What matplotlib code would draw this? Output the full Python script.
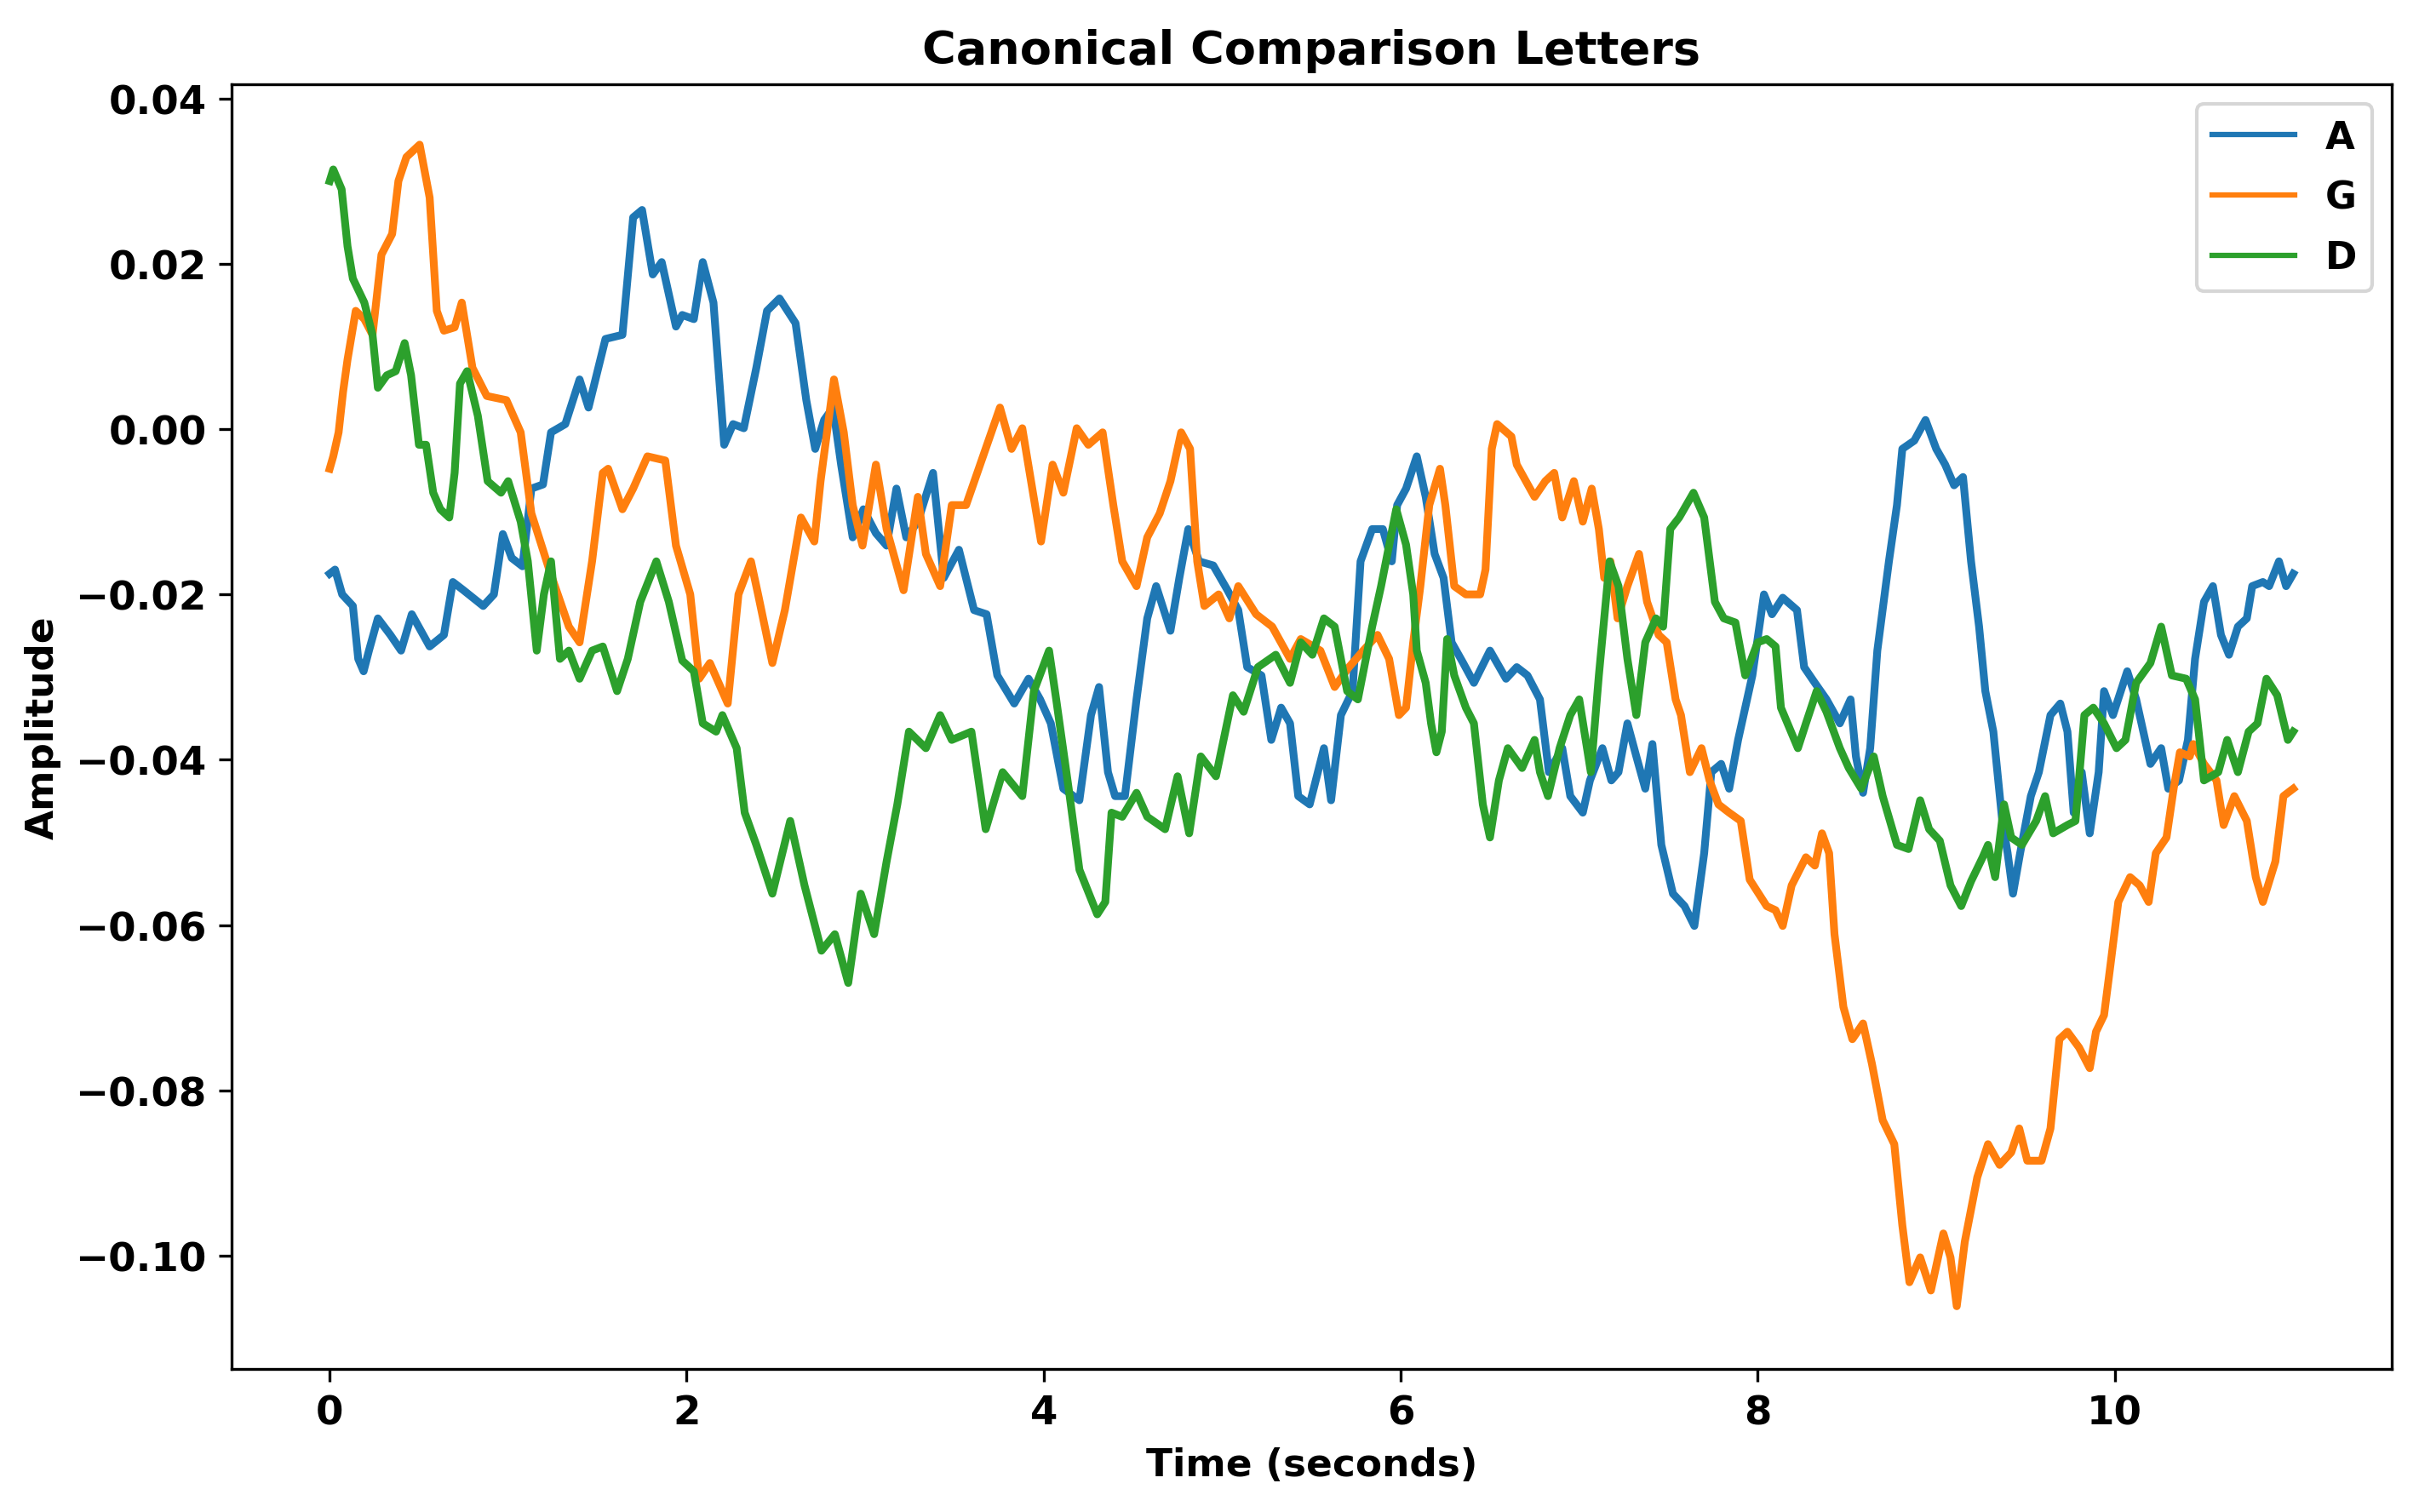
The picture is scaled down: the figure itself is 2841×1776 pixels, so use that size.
import numpy as np
import matplotlib
matplotlib.use("Agg")
import matplotlib.pyplot as plt

# values (time in s, amplitude)
t_a = [0.00, 0.03, 0.07, 0.13, 0.16, 0.19, 0.22, 0.27, 0.34, 0.40, 0.46, 0.56, 0.64, 0.69, 0.75, 0.86,
       0.92, 0.97, 1.02, 1.08, 1.13, 1.195, 1.24, 1.32, 1.40, 1.45, 1.545, 1.64, 1.70, 1.75, 1.81, 1.86,
       1.94, 1.975, 2.04, 2.09, 2.15, 2.21, 2.26, 2.32, 2.39, 2.45, 2.52, 2.61, 2.67, 2.72, 2.77, 2.82,
       2.865, 2.93, 2.99, 3.06, 3.12, 3.175, 3.23, 3.295, 3.38, 3.44, 3.525, 3.61, 3.68, 3.74, 3.835,
       3.915, 3.98, 4.04, 4.11, 4.20, 4.265, 4.31, 4.36, 4.40, 4.455, 4.52, 4.58, 4.63, 4.71, 4.76, 4.81,
       4.87, 4.95, 5.03, 5.09, 5.14, 5.22, 5.275, 5.33, 5.38, 5.426, 5.49, 5.57, 5.61, 5.665, 5.73, 5.775,
       5.84, 5.90, 5.95, 5.98, 6.03, 6.09, 6.14, 6.19, 6.24, 6.285, 6.35, 6.41, 6.50, 6.59, 6.65, 6.71,
       6.78, 6.83, 6.905, 6.95, 7.02, 7.06, 7.13, 7.18, 7.22, 7.27, 7.32, 7.37, 7.41, 7.46, 7.525, 7.59,
       7.645, 7.70, 7.74, 7.795, 7.84, 7.89, 7.97, 8.035, 8.08, 8.14, 8.22, 8.26, 8.32, 8.385, 8.46, 8.52,
       8.55, 8.59, 8.63, 8.67, 8.735, 8.78, 8.81, 8.877, 8.94, 9.00, 9.05, 9.10, 9.15, 9.195, 9.24, 9.275,
       9.32, 9.37, 9.40, 9.43, 9.47, 9.53, 9.575, 9.64, 9.695, 9.735, 9.77, 9.815, 9.86, 9.91, 9.94, 9.99,
       10.07, 10.12, 10.20, 10.26, 10.30, 10.36, 10.41, 10.45, 10.50, 10.55, 10.595, 10.64, 10.69, 10.74,
       10.77, 10.83, 10.865, 10.92, 10.96, 11.00]
amp_a = [-0.0175, -0.0170, -0.0200, -0.0214, -0.0278, -0.0293, -0.0268, -0.0229, -0.0249, -0.0268,
         -0.0224, -0.0263, -0.0249, -0.0185, -0.0195, -0.0214, -0.0200, -0.0127, -0.0156, -0.0166,
         -0.0072, -0.0067, -0.0004, 0.0006, 0.0060, 0.0026, 0.0109, 0.0114, 0.0256, 0.0265, 0.0187,
         0.0202, 0.0124, 0.0138, 0.0133, 0.0202, 0.0153, -0.0019, 0.0006, 0.0001, 0.0074, 0.0143, 0.0158,
         0.0128, 0.0035, -0.0024, 0.0011, 0.0026, -0.0043, -0.0131, -0.0097, -0.0126, -0.0141, -0.0072,
         -0.0131, -0.0112, -0.0053, -0.0180, -0.0146, -0.0219, -0.0224, -0.0298, -0.0332, -0.0302,
         -0.0327, -0.0356, -0.0435, -0.0449, -0.0346, -0.0312, -0.0415, -0.0444, -0.0444, -0.0327,
         -0.0229, -0.0190, -0.0244, -0.0180, -0.0121, -0.0160, -0.0165, -0.0195, -0.0219, -0.0288,
         -0.0298, -0.0376, -0.0337, -0.0356, -0.0444, -0.0454, -0.0386, -0.0449, -0.0346, -0.0317,
         -0.0160, -0.0121, -0.0121, -0.0160, -0.0092, -0.0072, -0.0033, -0.0082, -0.0151, -0.0180,
         -0.0258, -0.0283, -0.0307, -0.0268, -0.0302, -0.0288, -0.0298, -0.0327, -0.0415, -0.0386,
         -0.0444, -0.0464, -0.0425, -0.0386, -0.0425, -0.0415, -0.0356, -0.0396, -0.0435, -0.0381,
         -0.0503, -0.0562, -0.0577, -0.0601, -0.0513, -0.0415, -0.0405, -0.0435, -0.0376, -0.0298,
         -0.0200, -0.0224, -0.0204, -0.0219, -0.0288, -0.0307, -0.0327, -0.0356, -0.0327, -0.0396,
         -0.0440, -0.0386, -0.0268, -0.0160, -0.0092, -0.0024, -0.0014, 0.0011, -0.0024, -0.0043,
         -0.0068, -0.0058, -0.0160, -0.0239, -0.0317, -0.0366, -0.0474, -0.0513, -0.0562, -0.0513,
         -0.0444, -0.0415, -0.0346, -0.0332, -0.0366, -0.0464, -0.0415, -0.0489, -0.0415, -0.0317,
         -0.0346, -0.0293, -0.0327, -0.0405, -0.0386, -0.0435, -0.0425, -0.0376, -0.0278, -0.0209,
         -0.0190, -0.0249, -0.0273, -0.0239, -0.0229, -0.0190, -0.0185, -0.0190, -0.0160, -0.0190,
         -0.0175]

t_g = [0.00, 0.02, 0.05, 0.075, 0.10, 0.146, 0.194, 0.24, 0.29, 0.35, 0.385, 0.43, 0.504, 0.56, 0.60,
       0.64, 0.70, 0.74, 0.80, 0.88, 0.99, 1.07, 1.13, 1.23, 1.34, 1.40, 1.47, 1.53, 1.56, 1.64, 1.70,
       1.78, 1.88, 1.94, 2.02, 2.07, 2.13, 2.23, 2.29, 2.36, 2.40, 2.48, 2.55, 2.64, 2.715, 2.75, 2.825,
       2.88, 2.93, 2.985, 3.06, 3.12, 3.215, 3.295, 3.34, 3.42, 3.485, 3.565, 3.66, 3.755, 3.82, 3.88,
       3.985, 4.05, 4.11, 4.185, 4.25, 4.33, 4.39, 4.44, 4.52, 4.58, 4.65, 4.71, 4.77, 4.82, 4.86, 4.90,
       4.98, 5.04, 5.09, 5.19, 5.28, 5.38, 5.44, 5.55, 5.63, 5.71, 5.79, 5.87, 5.935, 5.99, 6.03, 6.07,
       6.11, 6.16, 6.22, 6.25, 6.30, 6.365, 6.445, 6.475, 6.51, 6.54, 6.62, 6.65, 6.75, 6.81, 6.86, 6.905,
       6.97, 7.02, 7.07, 7.11, 7.14, 7.175, 7.215, 7.27, 7.335, 7.38, 7.445, 7.49, 7.54, 7.57, 7.62,
       7.685, 7.73, 7.78, 7.84, 7.905, 7.955, 8.02, 8.05, 8.10, 8.14, 8.19, 8.27, 8.32, 8.36, 8.40, 8.43,
       8.48, 8.53, 8.59, 8.64, 8.70, 8.765, 8.81, 8.85, 8.91, 8.97, 9.04, 9.08, 9.115, 9.16, 9.23, 9.29,
       9.355, 9.42, 9.465, 9.51, 9.59, 9.64, 9.69, 9.735, 9.80, 9.86, 9.895, 9.94, 9.975, 10.02, 10.086,
       10.14, 10.19, 10.23, 10.29, 10.33, 10.365, 10.42, 10.44, 10.50, 10.57, 10.61, 10.67, 10.74, 10.79,
       10.83, 10.90, 10.945, 11.00]
amp_g = [-0.0048, -0.0033, -0.0004, 0.0045, 0.0084, 0.0143, 0.0133, 0.0114, 0.0211, 0.0236, 0.0300,
         0.0329, 0.0344, 0.0280, 0.0143, 0.0119, 0.0123, 0.0153, 0.0074, 0.0040, 0.0035, -0.0004,
         -0.0102, -0.0170, -0.0239, -0.0258, -0.0160, -0.0053, -0.0048, -0.0097, -0.0072, -0.0033,
         -0.0038, -0.0141, -0.0200, -0.0302, -0.0283, -0.0332, -0.0200, -0.0160, -0.0200, -0.0283,
         -0.0219, -0.0107, -0.0136, -0.0063, 0.0060, -0.0004, -0.0092, -0.0141, -0.0043, -0.0121,
         -0.0195, -0.0082, -0.0151, -0.0190, -0.0092, -0.0092, -0.0033, 0.0026, -0.0024, 0.0001,
         -0.0136, -0.0043, -0.0077, 0.0001, -0.0019, -0.0004, -0.0092, -0.0160, -0.0190, -0.0131,
         -0.0102, -0.0063, -0.0004, -0.0024, -0.0160, -0.0214, -0.0200, -0.0229, -0.0190, -0.0224,
         -0.0239, -0.0278, -0.0254, -0.0268, -0.0312, -0.0288, -0.0268, -0.0249, -0.0278, -0.0346,
         -0.0337, -0.0258, -0.0190, -0.0092, -0.0048, -0.0092, -0.0190, -0.0200, -0.0200, -0.0170,
         -0.0024, 0.0006, -0.0009, -0.0043, -0.0082, -0.0063, -0.0053, -0.0107, -0.0063, -0.0112,
         -0.0072, -0.0121, -0.0180, -0.0160, -0.0229, -0.0190, -0.0151, -0.0209, -0.0249, -0.0258,
         -0.0327, -0.0346, -0.0415, -0.0386, -0.0425, -0.0454, -0.0464, -0.0474, -0.0545, -0.0567,
         -0.0577, -0.0582, -0.0601, -0.0552, -0.0518, -0.0528, -0.0489, -0.0513, -0.0611, -0.0699,
         -0.0738, -0.0719, -0.0768, -0.0836, -0.0865, -0.0963, -0.1032, -0.1002, -0.1042, -0.0973,
         -0.1002, -0.1061, -0.0983, -0.0905, -0.0865, -0.0890, -0.0875, -0.0846, -0.0885, -0.0885,
         -0.0846, -0.0738, -0.0729, -0.0748, -0.0773, -0.0729, -0.0709, -0.0650, -0.0572, -0.0542,
         -0.0552, -0.0572, -0.0513, -0.0494, -0.0435, -0.0391, -0.0396, -0.0381, -0.0405, -0.0425,
         -0.0479, -0.0444, -0.0474, -0.0542, -0.0572, -0.0523, -0.0444, -0.0435]

t_d = [0.00, 0.02, 0.067, 0.10, 0.13, 0.194, 0.24, 0.27, 0.32, 0.37, 0.42, 0.456, 0.50, 0.54, 0.58,
       0.62, 0.67, 0.70, 0.73, 0.77, 0.83, 0.885, 0.96, 1.00, 1.07, 1.11, 1.16, 1.20, 1.24, 1.29, 1.34,
       1.40, 1.47, 1.53, 1.61, 1.67, 1.74, 1.83, 1.90, 1.975, 2.04, 2.09, 2.165, 2.20, 2.28, 2.325, 2.39,
       2.48, 2.58, 2.66, 2.755, 2.83, 2.905, 2.975, 3.05, 3.12, 3.18, 3.245, 3.34, 3.42, 3.485, 3.595,
       3.675, 3.77, 3.88, 3.945, 4.03, 4.07, 4.14, 4.20, 4.30, 4.345, 4.38, 4.44, 4.52, 4.58, 4.68, 4.75,
       4.815, 4.88, 4.965, 5.06, 5.12, 5.20, 5.30, 5.38, 5.44, 5.505, 5.57, 5.63, 5.70, 5.76, 5.84, 5.89,
       5.975, 6.03, 6.07, 6.09, 6.14, 6.17, 6.20, 6.23, 6.26, 6.30, 6.365, 6.41, 6.46, 6.50, 6.55, 6.60,
       6.68, 6.75, 6.78, 6.825, 6.89, 6.95, 7.00, 7.065, 7.11, 7.17, 7.22, 7.27, 7.32, 7.37, 7.43, 7.47,
       7.51, 7.56, 7.64, 7.70, 7.76, 7.81, 7.875, 7.93, 8.00, 8.05, 8.10, 8.13, 8.225, 8.27, 8.33, 8.385,
       8.46, 8.51, 8.58, 8.65, 8.70, 8.78, 8.845, 8.91, 8.96, 9.02, 9.08, 9.14, 9.195, 9.26, 9.29, 9.33,
       9.38, 9.42, 9.48, 9.56, 9.61, 9.655, 9.735, 9.78, 9.83, 9.88, 9.94, 10.01, 10.06, 10.12, 10.20,
       10.26, 10.32, 10.40, 10.45, 10.50, 10.58, 10.63, 10.69, 10.75, 10.80, 10.85, 10.91, 10.97, 11.00]
amp_d = [0.0300, 0.0314, 0.0290, 0.0221, 0.0182, 0.0153, 0.0114, 0.0050, 0.0065, 0.0070, 0.0104,
         0.0065, -0.0019, -0.0019, -0.0077, -0.0097, -0.0107, -0.0053, 0.0055, 0.0070, 0.0016, -0.0063,
         -0.0077, -0.0063, -0.0112, -0.0160, -0.0268, -0.0200, -0.0160, -0.0278, -0.0268, -0.0302,
         -0.0268, -0.0263, -0.0317, -0.0278, -0.0209, -0.0160, -0.0209, -0.0280, -0.0293, -0.0356,
         -0.0366, -0.0346, -0.0386, -0.0464, -0.0503, -0.0562, -0.0474, -0.0552, -0.0631, -0.0611,
         -0.0670, -0.0562, -0.0611, -0.0523, -0.0454, -0.0366, -0.0386, -0.0346, -0.0376, -0.0366,
         -0.0484, -0.0415, -0.0444, -0.0317, -0.0268, -0.0327, -0.0435, -0.0533, -0.0587, -0.0572,
         -0.0464, -0.0469, -0.0440, -0.0469, -0.0484, -0.0420, -0.0489, -0.0396, -0.0420, -0.0322,
         -0.0342, -0.0288, -0.0273, -0.0307, -0.0258, -0.0273, -0.0229, -0.0239, -0.0317, -0.0327,
         -0.0239, -0.0190, -0.0097, -0.0140, -0.0200, -0.0268, -0.0307, -0.0356, -0.0391, -0.0366,
         -0.0254, -0.0298, -0.0337, -0.0356, -0.0454, -0.0494, -0.0425, -0.0386, -0.0410, -0.0376,
         -0.0415, -0.0444, -0.0386, -0.0346, -0.0327, -0.0415, -0.0298, -0.0160, -0.0190, -0.0278,
         -0.0346, -0.0258, -0.0229, -0.0239, -0.0121, -0.0107, -0.0077, -0.0107, -0.0209, -0.0229,
         -0.0234, -0.0298, -0.0258, -0.0254, -0.0263, -0.0337, -0.0386, -0.0356, -0.0317, -0.0342,
         -0.0386, -0.0410, -0.0435, -0.0396, -0.0444, -0.0503, -0.0508, -0.0449, -0.0484, -0.0498,
         -0.0552, -0.0577, -0.0547, -0.0518, -0.0503, -0.0542, -0.0454, -0.0494, -0.0503, -0.0474,
         -0.0444, -0.0489, -0.0479, -0.0474, -0.0346, -0.0337, -0.0356, -0.0386, -0.0376, -0.0307,
         -0.0283, -0.0239, -0.0298, -0.0302, -0.0327, -0.0425, -0.0415, -0.0376, -0.0415, -0.0366,
         -0.0356, -0.0302, -0.0322, -0.0376, -0.0366]

labels = ['A', 'G', 'D']

plt.rcParams['font.family'] = 'DejaVu Sans'
plt.rcParams['font.weight'] = 'bold'
plt.rcParams['axes.labelweight'] = 'bold'
plt.rcParams['axes.titleweight'] = 'bold'

fig = plt.figure(figsize=(2841 / 300, 1777 / 300), dpi=300)
ax = fig.add_axes([0.0957, 0.0945, 0.8929, 0.8492])

ax.plot(t_a, amp_a, linewidth=2.2, label=labels[0])
ax.plot(t_g, amp_g, linewidth=2.2, label=labels[1])
ax.plot(t_d, amp_d, linewidth=2.2, label=labels[2])

ax.set_xlim(-0.55, 11.55)
ax.set_ylim(-0.1137, 0.0417)
ax.set_yticks([0.04, 0.02, 0.0, -0.02, -0.04, -0.06, -0.08, -0.10])
ax.tick_params(labelsize=11.2)

ax.set_title('Canonical Comparison Letters', fontsize=13)
ax.set_xlabel('Time (seconds)', fontsize=10.9)
ax.set_ylabel('Amplitude', fontsize=10.9)

leg = ax.legend(loc='upper right', fontsize=10.8, handlelength=2.15, labelspacing=0.62)
for line in leg.get_lines():
    line.set_linewidth(1.5)

fig.savefig('out.png', dpi=300)
